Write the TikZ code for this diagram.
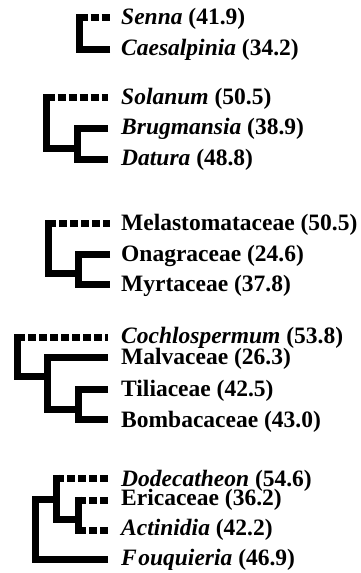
\documentclass[tikz,border=0pt]{standalone}
\usepackage{fontspec}
\setmainfont{Liberation Serif}
\begin{document}
\begin{tikzpicture}[x=1pt,y=-1pt,
  br/.style={line width=7pt, line join=miter},
  dbr/.style={line width=7pt, dash pattern=on 8pt off 3pt},
  lab/.style={anchor=base west, inner sep=0pt, font=\fontsize{23.5}{24}\selectfont\bfseries}]
\useasboundingbox (0,0) rectangle (360,573);
% ---------- group 1
\coordinate (g1v) at (79.5,13.5);
\coordinate (senna) at (110,17);
\coordinate (caes) at (110,49);
\draw[br] (caes) -| (g1v);
\draw[dbr] (g1v |- senna) -- (senna);
\node[lab] (tsenna) at (121,24.5) {\textit{Senna} (41.9)};
\node[lab] (tcaes) at (121,55) {\textit{Caesalpinia} (34.2)};
% ---------- group 2
\coordinate (g2v) at (46.5,93.5);
\coordinate (g2n) at (77,148);
\coordinate (sol) at (108,97);
\coordinate (brug) at (108,128);
\coordinate (dat) at (108,159);
\draw[br] (g2n) -| (g2v);
\draw[br] (brug) -| (g2n) |- (dat);
\draw[dbr] (g2v |- sol) -- (sol);
\node[lab] (tsol) at (121,104.5) {\textit{Solanum} (50.5)};
\node[lab] (tbrug) at (121,134.5) {\textit{Brugmansia} (38.9)};
\node[lab] (tdat) at (121,165.5) {\textit{Datura} (48.8)};
% ---------- group 3
\coordinate (g3v) at (48,219.5);
\coordinate (g3n) at (78,273);
\coordinate (mel) at (110,223);
\coordinate (ona) at (110,254);
\coordinate (myr) at (110,284);
\draw[br] (g3n) -| (g3v);
\draw[br] (ona) -| (g3n) |- (myr);
\draw[dbr] (g3v |- mel) -- (mel);
\node[lab] (tmel) at (121,230.5) {Melastomataceae (50.5)};
\node[lab] (tona) at (121,261.5) {Onagraceae (24.6)};
\node[lab] (tmyr) at (121,291.5) {Myrtaceae (37.8)};
% ---------- group 4
\coordinate (g4v) at (17,333.5);
\coordinate (g4a) at (47,376.5);
\coordinate (g4b) at (78,409);
\coordinate (coch) at (108,337);
\coordinate (malv) at (108,357.5);
\coordinate (til) at (108,389);
\coordinate (bomb) at (108,419);
\draw[br] (g4a) -| (g4v);
\draw[br] (malv) -| (g4a) |- (g4b);
\draw[br] (til) -| (g4b) |- (bomb);
\draw[dbr] (g4v |- coch) -- (coch);
\node[lab] (tcoch) at (121,343.5) {\textit{Cochlospermum} (53.8)};
\node[lab] (tmalv) at (121,364.5) {Malvaceae (26.3)};
\node[lab] (ttil) at (121,396.5) {Tiliaceae (42.5)};
\node[lab] (tbomb) at (121,427.5) {Bombacaceae (43.0)};
% ---------- group 5
\coordinate (g5o) at (35,499.5);
\coordinate (g5a) at (56,499.5);
\coordinate (g5mt) at (56,474.5);
\coordinate (g5b) at (78,519);
\coordinate (g5it) at (78,496.5);
\coordinate (g5ib) at (78,533.5);
\coordinate (dode) at (108,478);
\coordinate (eric) at (108,500);
\coordinate (acti) at (108,530);
\coordinate (fouq) at (108,559);
\draw[br] (fouq) -| (g5o) -- (g5a);
\draw[br] (g5mt) -- (g5a |- g5b) -- (g5b);
\draw[br] (g5it) -- (g5ib);
\draw[dbr] (g5mt |- dode) -- (dode);
\draw[dbr] (g5b |- eric) -- (eric);
\draw[dbr] (g5b |- acti) -- (acti);
\node[lab] (tdode) at (121,486.5) {\textit{Dodecatheon} (54.6)};
\node[lab] (teric) at (121,505.5) {Ericaceae (36.2)};
\node[lab] (tacti) at (121,535.5) {\textit{Actinidia} (42.2)};
\node[lab] (tfouq) at (121,565.5) {\textit{F\kern1.5pt ouquieria} (46.9)};
\end{tikzpicture}
\end{document}
